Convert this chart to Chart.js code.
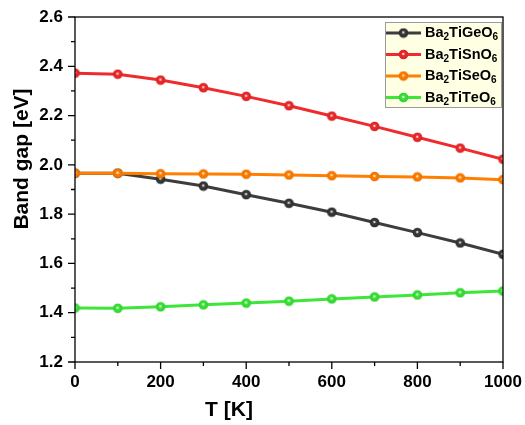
<!DOCTYPE html>
<html>
<head>
<meta charset="utf-8">
<script src="https://cdn.jsdelivr.net/npm/chart.js@4.4.0/dist/chart.umd.min.js"></script>
<style>
html, body { margin: 0; padding: 0; background: #fff; }
</style>
</head>
<body>
<canvas id="chart" width="525" height="425"></canvas>
<script>
// band gap vs temperature for the four double perovskites
var temps = [0, 100, 200, 300, 400, 500, 600, 700, 800, 900, 1000];
var gapGe = [1.966, 1.966, 1.942, 1.914, 1.879, 1.844, 1.808, 1.766, 1.725, 1.683, 1.637];
var gapSn = [2.372, 2.368, 2.344, 2.313, 2.278, 2.240, 2.198, 2.156, 2.112, 2.068, 2.023];
var gapSe = [1.966, 1.966, 1.964, 1.963, 1.962, 1.959, 1.956, 1.953, 1.951, 1.947, 1.940];
var gapTe = [1.419, 1.418, 1.424, 1.432, 1.439, 1.447, 1.456, 1.464, 1.472, 1.481, 1.488];
var names = ['Ba₂TiGeO₆', 'Ba₂TiSnO₆', 'Ba₂TiSeO₆', 'Ba₂TiTeO₆'];
var colors = ['#3d3d3d', '#ef2b2d', '#ff7f00', '#3ee63a'];
var darker = ['#2a2a2a', '#d42224', '#ea7000', '#30cc2c'];

var FONT = '"Liberation Sans", Arial, sans-serif';

// little shaded ball used as the point marker
function ball(col, edge) {
  var c = document.createElement('canvas');
  c.width = 11; c.height = 11;
  var g = c.getContext('2d');
  var grad = g.createRadialGradient(5.2, 4.8, 0, 5.5, 5.5, 5);
  grad.addColorStop(0, 'rgba(255,255,255,0.95)');
  grad.addColorStop(0.12, 'rgba(255,255,255,0.8)');
  grad.addColorStop(0.32, col);
  grad.addColorStop(1, edge);
  g.fillStyle = grad;
  g.beginPath();
  g.arc(5.5, 5.5, 4.8, 0, Math.PI * 2);
  g.fill();
  return c;
}

// text with unicode subscript digits drawn smaller and lowered
function richText(ctx, text, x, y, size) {
  for (var i = 0; i < text.length; i++) {
    var code = text.charCodeAt(i);
    if (code >= 0x2080 && code <= 0x2089) {
      var d = String(code - 0x2080);
      ctx.font = 'bold ' + Math.round(size * 0.68) + 'px ' + FONT;
      ctx.fillText(d, x, y + size * 0.3);
      x += ctx.measureText(d).width;
    } else {
      ctx.font = 'bold ' + size + 'px ' + FONT;
      ctx.fillText(text[i], x, y);
      x += ctx.measureText(text[i]).width;
    }
  }
}

var frame = {
  id: 'frame',
  afterDraw: function(chart) {
    var ctx = chart.ctx, a = chart.chartArea;
    var xs = chart.scales.x, ys = chart.scales.y;
    ctx.save();
    ctx.strokeStyle = '#000';
    ctx.lineWidth = 1.3;
    ctx.strokeRect(a.left, a.top, a.right - a.left, a.bottom - a.top);

    ctx.beginPath();
    xs.ticks.forEach(function(t) {
      var px = xs.getPixelForValue(t.value);
      var len = Math.round(t.value) % 200 === 0 ? 7 : 4;
      ctx.moveTo(px, a.bottom);
      ctx.lineTo(px, a.bottom + len);
    });
    ys.ticks.forEach(function(t) {
      var py = ys.getPixelForValue(t.value);
      var len = Math.round(t.value * 10) % 2 === 0 ? 7 : 4;
      ctx.moveTo(a.left, py);
      ctx.lineTo(a.left - len, py);
    });
    ctx.stroke();

    // axis titles
    ctx.fillStyle = '#000';
    ctx.font = 'bold 21px ' + FONT;
    ctx.textAlign = 'center';
    ctx.textBaseline = 'middle';
    ctx.fillText('T [K]', 229, 410);
    ctx.translate(22, 159);
    ctx.rotate(-Math.PI / 2);
    ctx.fillText('Band gap [eV]', 0, 0);
    ctx.restore();

    // legend box
    ctx.save();
    var bx = a.right - 118, by = a.top + 5, bw = 116, bh = 85;
    ctx.fillStyle = '#ffffe3';
    ctx.fillRect(bx, by, bw, bh);
    ctx.strokeStyle = '#9a9a9a';
    ctx.lineWidth = 1;
    ctx.strokeRect(bx + 0.5, by + 0.5, bw, bh);
    chart.data.datasets.forEach(function(ds, i) {
      var ry = by + 11 + i * 21.5;
      ctx.strokeStyle = ds.borderColor;
      ctx.lineWidth = 3;
      ctx.beginPath();
      ctx.moveTo(bx + 1, ry);
      ctx.lineTo(bx + 36, ry);
      ctx.stroke();
      ctx.drawImage(ds.pointStyle, bx + 18.5 - 5.5, ry - 5.5);
      ctx.fillStyle = '#000';
      ctx.textAlign = 'left';
      ctx.textBaseline = 'middle';
      richText(ctx, ds.label, bx + 40, ry, 14.5);
    });
    ctx.restore();
  }
};

var datasets = [gapGe, gapSn, gapSe, gapTe].map(function(vals, i) {
  return {
    label: names[i],
    data: vals,
    borderColor: colors[i],
    backgroundColor: colors[i],
    borderWidth: 3,
    pointStyle: ball(colors[i], darker[i]),
    pointRadius: 5,
    order: 3 - i
  };
});

var chart = new Chart(document.getElementById('chart'), {
  type: 'line',
  data: { labels: temps, datasets: datasets },
  plugins: [frame],
  options: {
    responsive: false,
    animation: false,
    layout: { padding: { left: 0, top: 17, right: 22, bottom: 0 } },
    plugins: { legend: { display: false }, tooltip: { enabled: false } },
    scales: {
      x: {
        type: 'linear',
        min: 0, max: 1000,
        afterFit: function(s) { s.height = 63; s.paddingRight = 0; s.paddingLeft = 0; },
        grid: { display: false, drawTicks: false },
        border: { display: false },
        ticks: {
          stepSize: 100, autoSkip: false, maxRotation: 0, padding: 10,
          color: '#000', font: { family: FONT, size: 17, weight: 'bold' },
          callback: function(v) { return Math.round(v) % 200 === 0 ? String(v) : ''; }
        }
      },
      y: {
        min: 1.2, max: 2.6,
        afterFit: function(s) { s.width = 75; s.paddingTop = 0; s.paddingBottom = 0; },
        grid: { display: false, drawTicks: false },
        border: { display: false },
        ticks: {
          stepSize: 0.1, autoSkip: false, padding: 12,
          color: '#000', font: { family: FONT, size: 17, weight: 'bold' },
          callback: function(v) { return Math.round(v * 10) % 2 === 0 ? v.toFixed(1) : ''; }
        }
      }
    }
  }
});
</script>
</body>
</html>
